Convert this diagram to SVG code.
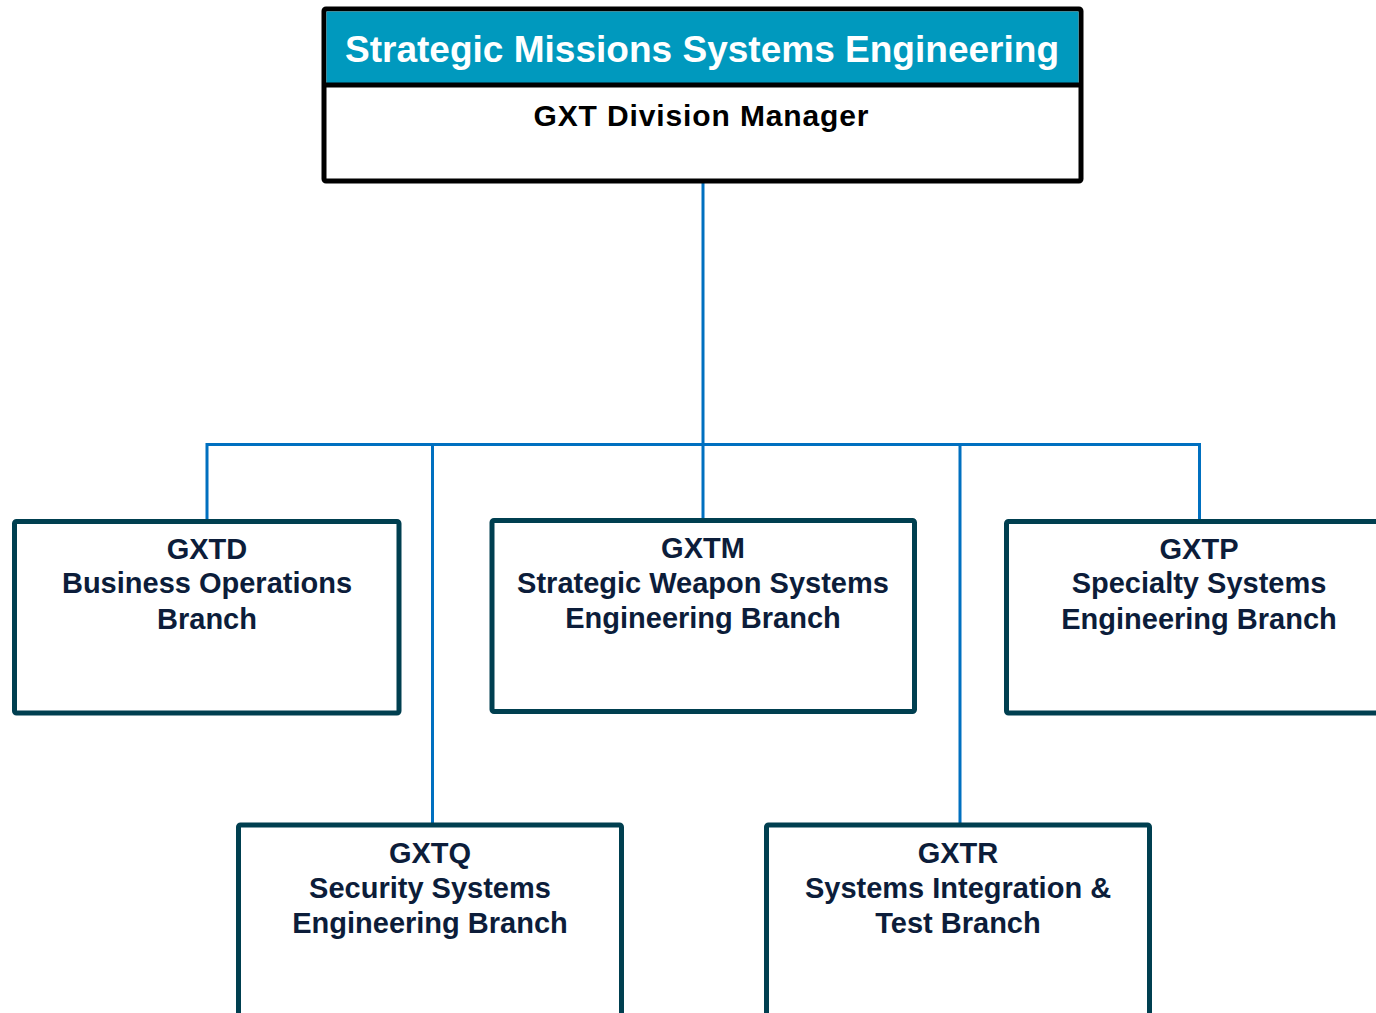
<svg xmlns="http://www.w3.org/2000/svg" width="1376" height="1013" viewBox="0 0 1376 1013">
<style>
.conn{fill:none;stroke:#0070C0;stroke-width:3;}
.box{fill:#fff;stroke:#003F50;stroke-width:5;}
.bt{font-family:"Liberation Sans",Arial,sans-serif;font-weight:bold;font-size:29px;fill:#0C1D3A;text-anchor:middle;}
</style>
<rect width="1376" height="1013" fill="#fff"/>
<g id="connectors">
<line class="conn" x1="703" y1="182" x2="703" y2="520"/>
<polyline class="conn" points="207,521 207,444.5 1199.5,444.5 1199.5,521"/>
<line class="conn" x1="432.5" y1="444.5" x2="432.5" y2="825"/>
<line class="conn" x1="960" y1="444.5" x2="960" y2="825"/>
</g>
<g id="top">
<rect x="324" y="9" width="757" height="172" fill="#fff" stroke="#000" stroke-width="5" rx="2"/>
<rect x="326.5" y="11.5" width="752" height="73" fill="#0099BE"/>
<line x1="324" y1="85" x2="1081" y2="85" stroke="#000" stroke-width="5"/>
<text x="702" y="62" font-family="Liberation Sans,Arial,sans-serif" font-weight="bold" font-size="37" fill="#fff" text-anchor="middle" textLength="714" lengthAdjust="spacingAndGlyphs">Strategic Missions Systems Engineering</text>
<text x="701" y="126" font-family="Liberation Sans,Arial,sans-serif" font-weight="bold" font-size="30" fill="#000" text-anchor="middle" textLength="335" lengthAdjust="spacing">GXT Division Manager</text>
</g>
<g id="GXTD">
<rect class="box" x="14.5" y="521.5" width="384.5" height="191.5" rx="2"/>
<text class="bt" x="207" y="559">GXTD</text>
<text class="bt" x="207" y="593">Business Operations</text>
<text class="bt" x="207" y="629">Branch</text>
</g>
<g id="GXTM">
<rect class="box" x="492" y="520.5" width="422.5" height="191" rx="2"/>
<text class="bt" x="703" y="558">GXTM</text>
<text class="bt" x="703" y="593">Strategic Weapon Systems</text>
<text class="bt" x="703" y="628">Engineering Branch</text>
</g>
<g id="GXTP">
<rect class="box" x="1006.5" y="521.5" width="385" height="191.5" rx="2"/>
<text class="bt" x="1199" y="559">GXTP</text>
<text class="bt" x="1199" y="593">Specialty Systems</text>
<text class="bt" x="1199" y="629">Engineering Branch</text>
</g>
<g id="GXTQ">
<rect class="box" x="238.5" y="825" width="383" height="220" rx="2"/>
<text class="bt" x="430" y="863">GXTQ</text>
<text class="bt" x="430" y="898">Security Systems</text>
<text class="bt" x="430" y="933">Engineering Branch</text>
</g>
<g id="GXTR">
<rect class="box" x="766.5" y="825" width="383" height="220" rx="2"/>
<text class="bt" x="958" y="863">GXTR</text>
<text class="bt" x="958" y="898">Systems Integration &amp;</text>
<text class="bt" x="958" y="933">Test Branch</text>
</g>
</svg>
